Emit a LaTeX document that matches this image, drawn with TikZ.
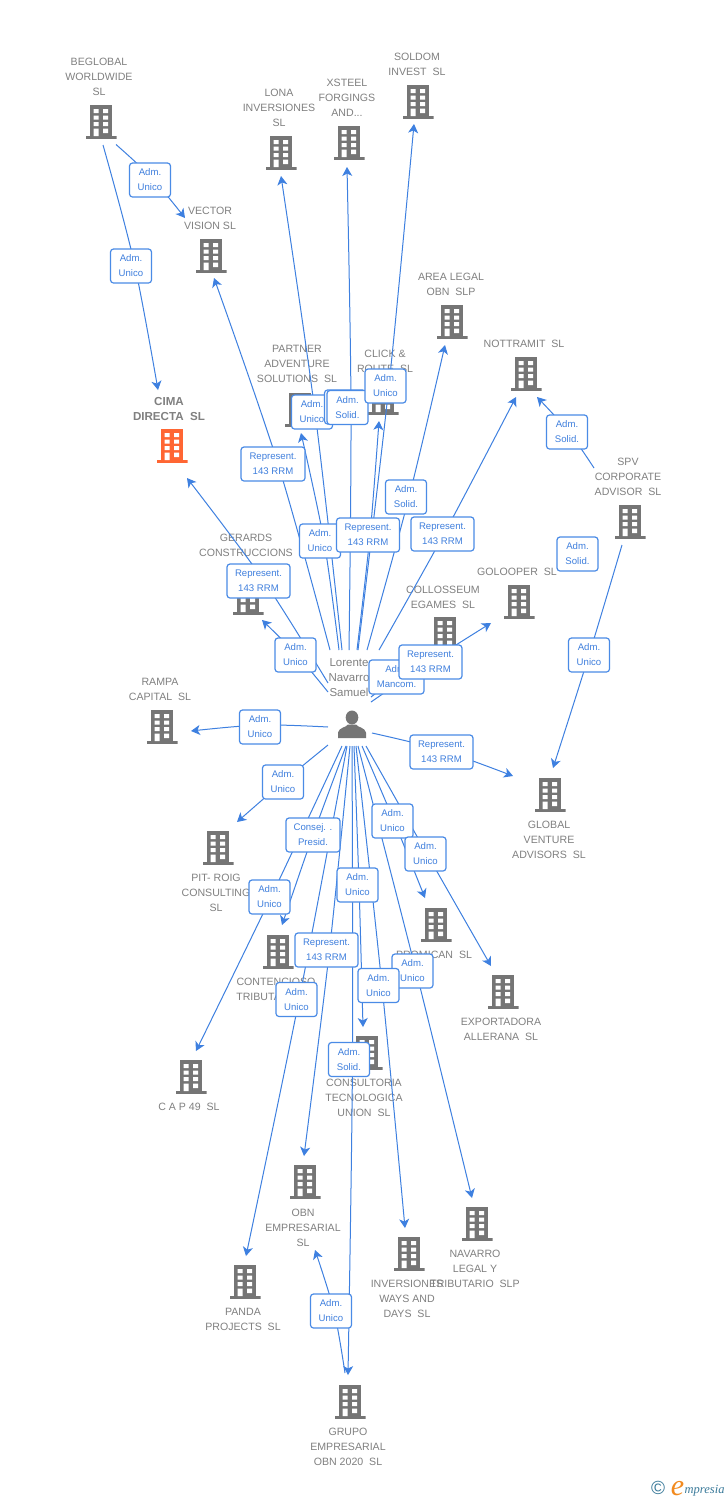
\documentclass[tikz,border=0pt]{standalone}
\usepackage{fontspec}
\setmainfont{Liberation Sans}
\newfontfamily\logoserif{Liberation Serif}
\usetikzlibrary{arrows.meta}
\definecolor{icongray}{HTML}{757575}
\definecolor{icontarget}{HTML}{FF6633}
\definecolor{txtgray}{HTML}{808080}
\definecolor{linkblue}{HTML}{3E80E0}
\definecolor{boxblue}{HTML}{4A8BE6}
\definecolor{boxtxt}{HTML}{3F7FDD}
\definecolor{logoteal}{HTML}{3A7A9A}
\definecolor{logoorange}{HTML}{F28A1E}
\pgfdeclarelayer{back}
\pgfdeclarelayer{mid}
\pgfsetlayers{back,mid,main}
\newcommand\buildingicon[1]{%
  \begin{scope}[shift={(path picture bounding box.center)}]
    \fill[#1] (-11.3,-17) rectangle (11.3,17);
    \fill[#1] (-15.5,14) rectangle (15.5,17);
    \fill[white] (-7.3,-13) rectangle (-2.3,-9) (2,-13) rectangle (7,-9)
      (-7.3,-6.5) rectangle (-2.3,-2.3) (2,-6.5) rectangle (7,-2.3)
      (-7.3,0) rectangle (-2.3,4) (2,0) rectangle (7,4)
      (-7.3,6.5) rectangle (-2.3,14) (2,6.5) rectangle (7,11);
  \end{scope}}
\newcommand\personicon{%
  \begin{scope}[shift={(path picture bounding box.center)}]
    \fill[icongray] (0,-7) circle[x radius=6.3,y radius=7];
    \fill[icongray] (-14,13.5) -- (-14,8) .. controls (-13,3) and (-6,3) .. (-4,0)
      -- (4,0) .. controls (6,3) and (13,3) .. (14,8) -- (14,13.5) -- cycle;
  \end{scope}}
\tikzset{
  x=1pt,y=-1pt,
  bldg/.style={minimum width=31pt,minimum height=34pt,inner sep=0pt,
    path picture={\buildingicon{#1}}},
  bldg/.default=icongray,
  persona/.style={minimum width=28pt,minimum height=28pt,inner sep=0pt,
    path picture={\personicon}},
  namelbl/.style={text=txtgray,align=center,inner sep=0pt,yshift=-1pt,
    font=\fontsize{10.6}{15}\selectfont},
  targetlbl/.style={namelbl,font=\fontsize{11.6}{15}\selectfont\bfseries},
  personlbl/.style={namelbl,font=\fontsize{11.5}{15}\selectfont},
  rolebox/.style={draw=boxblue,fill=white,line width=1.2pt,rounded corners=3pt,
    text=boxtxt,align=center,inner sep=0pt,minimum width=#1,minimum height=34pt,
    font=\fontsize{9.6}{15}\selectfont,execute at begin node={\vspace*{2pt}}},
  rolebox/.default=41pt,
  repbox/.style={rolebox=63pt},
  link/.style={draw=linkblue,line width=1pt},
  arrowlink/.style={link,-{Stealth[length=9pt,width=10pt,inset=2.5pt]}},
}
\newcommand\site[6][icongray]{% name, icon x,y, label x,y, text
  \begin{pgfonlayer}{back}
    \node[bldg=#1] (#2) at (#3) {};
    \node[namelbl] (#2-name) at (#4) {#5};
  \end{pgfonlayer}#6}
\newcommand\conn[4]{% box, start, via, end
  \begin{pgfonlayer}{mid}
    \coordinate (#1-from) at (#2);
    \coordinate (#1-via) at (#3);
    \coordinate (#1-to) at (#4);
    \draw[arrowlink] plot[smooth,tension=0.55] coordinates {(#1-from) (#1-via) (#1-to)};
  \end{pgfonlayer}}
\begin{document}
\begin{tikzpicture}
\begin{pgfonlayer}{back}
\fill[white] (0,0) rectangle (728,1500);
\end{pgfonlayer}
\useasboundingbox (0,0) rectangle (728,1500);
% sites
\site{beglobal}{101,122}{99,76}{BEGLOBAL\\WORLDWIDE\\SL}{}
\site{vector}{211,256}{210,217.5}{VECTOR\\VISION SL}{}
\site{lona}{281,153}{279,107}{LONA\\INVERSIONES\\SL}{}
\site{xsteel}{349,143}{347,97}{XSTEEL\\FORGINGS\\AND...}{}
\site{soldom}{418,102}{417,63.5}{SOLDOM\\INVEST~~SL}{}
\site{area}{452,322}{451,283.5}{AREA LEGAL\\OBN~~SLP}{}
\site{nottramit}{526,374}{524,343}{NOTTRAMIT~~SL}{}
\begin{pgfonlayer}{back}
  \node[bldg=icontarget] (cima) at (172,446) {};
  \node[targetlbl] (cima-name) at (169,407.5) {CIMA\\DIRECTA~~SL};
\end{pgfonlayer}
\site{partner}{300,410}{297,363}{PARTNER\\ADVENTURE\\SOLUTIONS~~SL}{}
\site{click}{383,398}{385,360.5}{CLICK \&\\ROUTE~~SL}{}
\site{spv}{630,522}{628,476}{SPV\\CORPORATE\\ADVISOR~~SL}{}
\site{golooper}{519,602}{517,571}{GOLOOPER~~SL}{}
\site{colosseum}{445,634}{443,596.5}{COLLOSSEUM\\EGAMES~~SL}{}
\site{gerards}{248,598}{246,544.5}{GERARDS\\CONSTRUCCIONS}{}
\site{rampa}{162,727}{160,688.5}{RAMPA\\CAPITAL~~SL}{}
\site{global}{550,795}{549,839}{GLOBAL\\VENTURE\\ADVISORS~~SL}{}
\site{pit}{218,848}{216,892}{PIT- ROIG\\CONSULTING\\SL}{}
\site{contencioso}{278,952}{276,988.5}{CONTENCIOSO\\TRIBUTARIO\hspace*{16pt}}{}
\site{promican}{436,925}{434,954}{PROMICAN~~SL}{}
\site{exportadora}{503,992}{501,1028.5}{EXPORTADORA\\ALLERANA~~SL}{}
\site{cap}{191,1077}{189,1106}{C A P 49~~SL}{}
\site{consultoria}{367,1053}{364,1097}{CONSULTORIA\\TECNOLOGICA\\UNION~~SL}{}
\site{obn}{305,1182}{303,1227}{OBN\\EMPRESARIAL\\SL}{}
\site{inversiones}{409,1254}{407,1298}{INVERSIONES\\WAYS AND\\DAYS~~SL}{}
\site{navarro}{477,1224}{475,1268}{NAVARRO\\LEGAL Y\\TRIBUTARIO~~SLP}{}
\site{panda}{245,1282}{243,1318.5}{PANDA\\PROJECTS~~SL}{}
\site{grupo}{350,1402}{348,1446}{GRUPO\\EMPRESARIAL\\OBN 2020~~SL}{}
\begin{pgfonlayer}{back}
  \node[persona] (person) at (352,724.5) {};
  \node[personlbl] (person-name) at (349,677) {Lorente\\Navarro\\Samuel};
\end{pgfonlayer}
% connectors
\conn{bxA}{116,144.5}{152,178}{185,218}
\conn{bxB}{103,145}{134,262}{158,390}
\conn{bxC}{328,683}{264,581}{187,478}
\conn{bxD}{328,692}{297,655}{262,620}
\conn{bxE}{328,727}{260,725}{191,731}
\conn{bxF}{328,745}{283,782}{237,822}
\conn{bxG}{342,746}{271,897}{196,1051}
\conn{bxH}{346,746}{313,835}{282,925}
\conn{bxI}{347,746}{299,1000}{246,1256}
\conn{bxJ}{350,746}{329.5,950}{304,1156}
\conn{bxK}{352,746}{352.5,1059}{348,1375}
\conn{bxL}{354,746}{359,885}{363,1027}
\conn{bxM}{356,746}{382,986}{405,1228}
\conn{bxN}{358,746}{416,971}{472,1198}
\conn{bxO}{362,746}{394,821}{425,898}
\conn{bxP}{366,746}{427,854}{491,966}
\conn{bxQ}{372,733}{441,750}{513,776}
\conn{bxR}{622,545}{589,655}{553,768}
\conn{bxS}{594,468}{569,432}{537,397}
\conn{bxT}{345,1373}{334,1311}{315,1250}
\conn{bxU}{371,702}{431,661}{491,623}
\conn{bxV}{330,650}{278,464}{214,278}
\conn{bxW}{339,650}{324,541}{301,433}
\conn{bxX}{342,650}{315,412}{281,176}
\conn{bxY}{349,650}{351,407}{347,167}
\conn{bxZ}{357,650}{370,535}{379,421}
\conn{bxAA}{358,650}{389,385}{414,124}
\conn{bxAB}{367,650}{409,497}{445,345}
\conn{bxAC}{379,650}{444,534}{516,397}
\begin{pgfonlayer}{mid}
  \coordinate (mancom-from) at (371,697);
  \coordinate (mancom-to) at (425,655);
  \draw[arrowlink] (mancom-from) -- (mancom-to);
\end{pgfonlayer}
% role boxes
\node[rolebox] (bxA) at (150,180) {Adm.\\Unico};
\node[rolebox] (bxB) at (131,266) {Adm.\\Unico};
\node[rolebox] (bxX) at (312,412) {Adm.\\Unico};
\node[rolebox] (bxY0) at (345,407) {Adm.\\Solid.};
\node[rolebox] (bxY) at (347.5,407.5) {Adm.\\Solid.};
\node[rolebox] (bxAA) at (385.5,386) {Adm.\\Unico};
\node[rolebox=64pt] (bxV) at (273,464) {Represent.\\143 RRM};
\node[rolebox] (bxS) at (567,432) {Adm.\\Solid.};
\node[rolebox] (bxAB) at (406,497) {Adm.\\Solid.};
\node[rolebox] (bxW) at (320,541) {Adm.\\Unico};
\node[repbox] (bxZ) at (368,535) {Represent.\\143 RRM};
\node[repbox] (bxAC) at (442.5,534) {Represent.\\143 RRM};
\node[rolebox] (spvsolid) at (577.5,554) {Adm.\\Solid.};
\node[repbox] (bxC) at (258.5,581) {Represent.\\143 RRM};
\node[rolebox] (bxD) at (295.5,655) {Adm.\\Unico};
\node[rolebox] (bxR) at (589,655) {Adm.\\Unico};
\node[rolebox=55pt] (mancom) at (396.5,677) {Adm.\\Mancom.};
\node[repbox] (bxU) at (430.5,662) {Represent.\\143 RRM};
\node[rolebox] (bxE) at (260,727) {Adm.\\Unico};
\node[repbox] (bxQ) at (441.5,752) {Represent.\\143 RRM};
\node[rolebox] (bxF) at (283,782) {Adm.\\Unico};
\node[rolebox] (bxO) at (392.5,821) {Adm.\\Unico};
\node[rolebox=54pt] (bxH) at (313,835) {Consej. .\\Presid.};
\node[rolebox] (bxP) at (425.5,854) {Adm.\\Unico};
\node[rolebox] (bxL) at (357.5,885) {Adm.\\Unico};
\node[rolebox] (bxG) at (269.5,897) {Adm.\\Unico};
\node[repbox] (bxJ) at (326.5,950) {Represent.\\143 RRM};
\node[rolebox] (bxN) at (412.5,971) {Adm.\\Unico};
\node[rolebox] (bxM) at (378.5,985.5) {Adm.\\Unico};
\node[rolebox] (bxI) at (296.5,999.5) {Adm.\\Unico};
\node[rolebox] (bxK) at (349,1059.5) {Adm.\\Solid.};
\node[rolebox] (bxT) at (331,1311) {Adm.\\Unico};
% logo
\node[inner sep=0pt,text=logoteal,font=\fontsize{19}{19}\selectfont] (logoc) at (658,1488) {©};
\node[inner sep=0pt,anchor=base,text=logoorange,font=\logoserif\itshape\fontsize{30}{30}\selectfont] (logoe) at (677.5,1495) {e};
\node[inner sep=0pt,anchor=base west,text=logoteal,font=\logoserif\itshape\fontsize{12.5}{13}\selectfont] (logot) at (684.5,1493) {mpresia};
\end{tikzpicture}
\end{document}
